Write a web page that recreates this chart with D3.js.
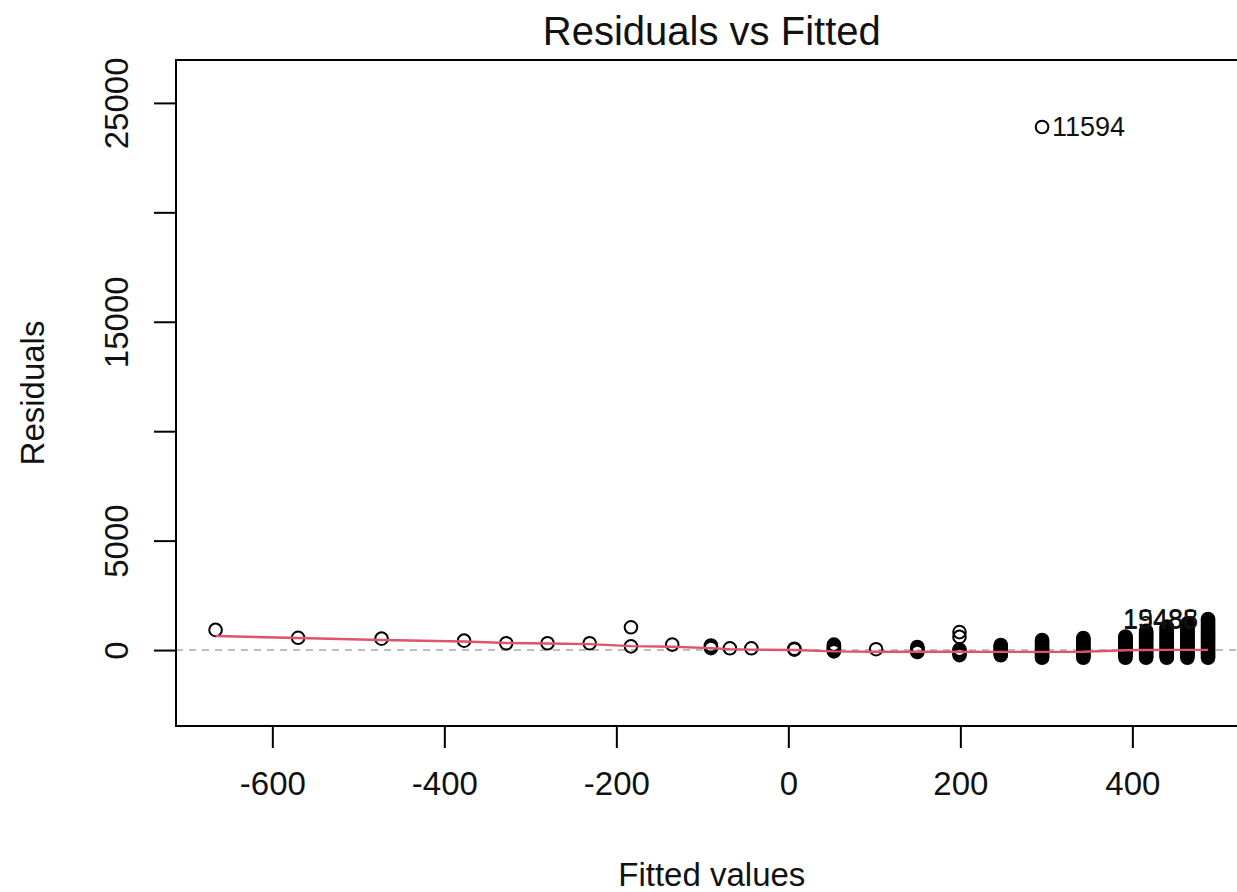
<!DOCTYPE html>
<html>
<head>
<meta charset="utf-8">
<script src="https://cdn.jsdelivr.net/npm/d3@7"></script>
<style>
  html, body { margin: 0; padding: 0; background: #fff; }
  svg { display: block; font-family: "Liberation Sans", Arial, sans-serif; }
</style>
</head>
<body>
<svg id="chart" width="1237" height="892"></svg>
<script>
// Fitted value levels of the model and the residuals observed at each level
const fittedLevels = [-666, -570, -473, -377, -328, -280, -231, -183, -135, -90, -68, -43,
  7, 53, 102, 150, 199, 247, 295, 343, 392, 416, 440, 464, 488];

const residualsByLevel = [
  [920],
  [560],
  [520],
  [430],
  [310],
  [310],
  [310],
  [1040, 170],
  [250],
  [210, 150, 90],
  [80],
  [80],
  [60, 20],
  [250, 190, 130, 70, 10, -60],
  [40],
  [140, 80, 20, -40, -90],
  [820, 600, 20, -40, -100, -160, -230],
  [230, 170, 110, 50, -10, -70, -130, -190, -240],
  [23900, 460, 400, 340, 280, 220, 160, 100, 40, -20, -80, -140, -200, -260, -320, -350],
  [550, 490, 430, 370, 310, 250, 190, 130, 70, 10, -50, -110, -170, -230, -290, -350],
  [620, 560, 500, 440, 380, 320, 260, 200, 140, 80, 20, -40, -100, -160, -220, -280, -350],
  [880, 820, 760, 700, 640, 580, 520, 460, 400, 340, 280, 220, 160, 100, 40, -20, -80, -140,
   -200, -260, -320, -350],
  [1070, 1010, 950, 890, 830, 770, 710, 650, 590, 530, 470, 410, 350, 290, 230, 170, 110, 50,
   -10, -70, -130, -190, -250, -310, -350],
  [1220, 1160, 1100, 1040, 980, 920, 860, 800, 740, 680, 620, 560, 500, 440, 380, 320, 260,
   200, 140, 80, 20, -40, -100, -160, -220, -280, -350],
  [1420, 1360, 1300, 1240, 1180, 1120, 1060, 1000, 940, 880, 820, 760, 700, 640, 580, 520,
   460, 400, 340, 280, 220, 160, 100, 40, -20, -80, -140, -200, -260, -320, -350]
];

// Lowess smoother evaluated at each fitted level
const smoothResiduals = [640, 550, 460, 390, 320, 300, 270, 180, 150, 90, 40, 20,
  0, -60, -75, -80, -80, -85, -85, -80, -10, 0, 10, 10, 10];

// Observations flagged with their row ids
const idFitted = [295, 488, 488];
const idResidual = [23900, 1420, 1360];
const idLabels = ["11594", "19488", "15485"];
const idSide = ["right", "left", "left"];

// Axis ticks
const xTicks = [-600, -400, -200, 0, 200, 400];
const yTicks = [0, 5000, 10000, 15000, 20000, 25000];
const yTickLabels = ["0", "5000", "", "15000", "", "25000"];

const svg = d3.select("#chart");
const plot = { left: 176, right: 1247.6, top: 60, bottom: 726 };

const x = d3.scaleLinear().domain([-712, 534]).range([plot.left, plot.right]);
const y = d3.scaleLinear().domain([-3470, 26960]).range([plot.bottom, plot.top]);

const points = [];
fittedLevels.forEach((f, i) => residualsByLevel[i].forEach(r => points.push({ f, r })));

// zero reference line
svg.append("line")
  .attr("x1", plot.left).attr("x2", plot.right)
  .attr("y1", y(0)).attr("y2", y(0))
  .attr("stroke", "#bebebe").attr("stroke-width", 2)
  .attr("stroke-dasharray", "7,6");

// open-circle points
svg.append("g")
  .selectAll("circle")
  .data(points)
  .join("circle")
  .attr("cx", d => x(d.f))
  .attr("cy", d => y(d.r))
  .attr("r", 6.3)
  .attr("fill", "none")
  .attr("stroke", "#000")
  .attr("stroke-width", 2);

// smoother
const line = d3.line().x((d, i) => x(fittedLevels[i])).y(d => y(d));
svg.append("path")
  .datum(smoothResiduals)
  .attr("d", line)
  .attr("fill", "none")
  .attr("stroke", "#DF536B")
  .attr("stroke-width", 2.4);

// id labels
svg.append("g")
  .selectAll("text")
  .data(idLabels)
  .join("text")
  .attr("x", (d, i) => x(idFitted[i]) + (idSide[i] === "right" ? 10 : -10))
  .attr("y", (d, i) => y(idResidual[i]) + 9)
  .attr("text-anchor", (d, i) => idSide[i] === "right" ? "start" : "end")
  .attr("font-size", 27)
  .attr("fill", "#111")
  .text(d => d);

// frame
svg.append("rect")
  .attr("x", plot.left).attr("y", plot.top)
  .attr("width", plot.right - plot.left).attr("height", plot.bottom - plot.top)
  .attr("fill", "none").attr("stroke", "#000").attr("stroke-width", 2);

// x axis
const xAxis = d3.axisBottom(x).tickValues(xTicks).tickSize(22).tickPadding(24)
  .tickFormat(d3.format("d"));
const gx = svg.append("g").attr("transform", `translate(0,${plot.bottom})`).call(xAxis);
gx.select(".domain").remove();
gx.selectAll(".tick line").attr("stroke", "#000").attr("stroke-width", 2);
gx.selectAll(".tick text")
  .attr("font-size", 33).attr("font-family", "Liberation Sans, Arial, sans-serif")
  .attr("fill", "#111").attr("dy", null).attr("y", 69)
  .text(d => d < 0 ? "-" + Math.abs(d) : String(d));

// y axis
const yAxis = d3.axisLeft(y).tickValues(yTicks).tickSize(22).tickFormat((d, i) => yTickLabels[i]);
const gy = svg.append("g").attr("transform", `translate(${plot.left},0)`).call(yAxis);
gy.select(".domain").remove();
gy.selectAll(".tick line").attr("stroke", "#000").attr("stroke-width", 2);
gy.selectAll(".tick text")
  .attr("font-size", 33).attr("font-family", "Liberation Sans, Arial, sans-serif")
  .attr("fill", "#111")
  .attr("x", null).attr("dy", null)
  .attr("text-anchor", "middle")
  .attr("transform", "translate(-48,0) rotate(-90)");

// titles
svg.append("text")
  .attr("x", (plot.left + plot.right) / 2).attr("y", 45)
  .attr("text-anchor", "middle").attr("font-size", 40).attr("fill", "#111")
  .text("Residuals vs Fitted");

svg.append("text")
  .attr("x", (plot.left + plot.right) / 2).attr("y", 886)
  .attr("text-anchor", "middle").attr("font-size", 33).attr("fill", "#111")
  .text("Fitted values");

svg.append("text")
  .attr("transform", `translate(44,${(plot.top + plot.bottom) / 2}) rotate(-90)`)
  .attr("text-anchor", "middle").attr("font-size", 33).attr("fill", "#111")
  .text("Residuals");
</script>
</body>
</html>
